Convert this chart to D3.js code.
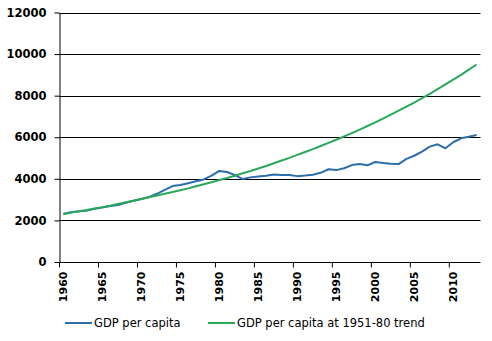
<!DOCTYPE html>
<html>
<head>
<meta charset="utf-8">
<script src="https://cdn.jsdelivr.net/npm/d3@7"></script>
<style>
  body { margin: 0; background: #fff; }
  text { font-family: "DejaVu Sans", Verdana, sans-serif; }
</style>
</head>
<body>
<div id="chart"></div>
<script>
// data
var years = d3.range(1960, 2014);
var gdpPerCapita = [
    2320, 2390, 2440, 2470, 2560, 2620, 2690, 2740, 2850, 2950,
    3030, 3130, 3280, 3470, 3650, 3700, 3790, 3880, 3970, 4150,
    4380, 4330, 4180, 3990, 4070, 4110, 4150, 4210, 4190, 4180,
    4130, 4160, 4200, 4290, 4460, 4420, 4510, 4660, 4710, 4650,
    4810, 4760, 4720, 4710, 4960, 5110, 5310, 5550, 5660, 5470,
    5760, 5950, 6020, 6110
];
var gdpTrend = [
    2300, 2380, 2440, 2500, 2570, 2640, 2710, 2790, 2870, 2950,
    3030, 3110, 3200, 3280, 3370, 3450, 3540, 3640, 3740, 3840,
    3940, 4040, 4150, 4270, 4380, 4500, 4620, 4750, 4880, 5010,
    5150, 5290, 5430, 5580, 5730, 5880, 6040, 6200, 6370, 6540,
    6720, 6900, 7090, 7280, 7470, 7670, 7880, 8090, 8310, 8540,
    8770, 9000, 9250, 9500
];
var yTicks = [0, 2000, 4000, 6000, 8000, 10000, 12000];
var seriesNames = ["GDP per capita", "GDP per capita at 1951-80 trend"];
var seriesColors = ["#2b6ead", "#2aa85a"];

function drawChart() {
    var width = 492;
    var height = 341;
    var plotLeft = 59.5, plotRight = 480.5, plotTop = 12.5, plotBottom = 262;

    var svg = d3.select("#chart")
        .append("svg")
        .attr("width", width)
        .attr("height", height);

    var x = d3.scaleBand()
        .domain(years)
        .range([plotLeft, plotRight])
        .padding(0);

    var y = d3.scaleLinear()
        .domain([0, 12000])
        .range([plotBottom, plotTop]);

    // gridlines
    svg.append("g")
        .selectAll("line")
        .data(yTicks.filter(d => d > 0))
        .join("line")
        .attr("x1", plotLeft)
        .attr("x2", plotRight)
        .attr("y1", d => Math.round(y(d)) + 0.5)
        .attr("y2", d => Math.round(y(d)) + 0.5)
        .attr("stroke", "#000")
        .attr("stroke-width", 1);

    // y axis
    var yAxis = svg.append("g")
        .attr("transform", `translate(${plotLeft},0)`)
        .call(d3.axisLeft(y).tickValues(yTicks).tickFormat(d3.format("d"))
            .tickSize(5).tickPadding(8).tickSizeOuter(0));
    yAxis.selectAll("path, line").attr("stroke", "#000");
    yAxis.selectAll("text")
        .attr("font-size", 11.5)
        .attr("font-weight", "bold")
        .attr("fill", "#000");

    // x axis
    var xAxis = svg.append("g")
        .attr("transform", `translate(0,${Math.round(plotBottom) + 0.5})`);
    xAxis.append("line")
        .attr("x1", plotLeft)
        .attr("x2", plotRight)
        .attr("stroke", "#000");
    var labelYears = years.filter(d => (d - 1960) % 5 == 0);
    xAxis.selectAll(".tick")
        .data(labelYears)
        .join("line")
        .attr("class", "tick")
        .attr("x1", d => x(d))
        .attr("x2", d => x(d))
        .attr("y1", 0)
        .attr("y2", 5)
        .attr("stroke", "#000");
    xAxis.selectAll(".lbl")
        .data(labelYears)
        .join("text")
        .attr("class", "lbl")
        .attr("transform", d => `translate(${x(d) + x.bandwidth() / 2 + 4},9) rotate(-90)`)
        .attr("text-anchor", "end")
        .attr("font-size", 11)
        .attr("font-weight", "bold")
        .attr("fill", "#000")
        .text(d => d);

    // lines
    [gdpPerCapita, gdpTrend].forEach(function (values, i) {
        svg.append("path")
            .datum(values)
            .attr("fill", "none")
            .attr("stroke", seriesColors[i])
            .attr("stroke-width", 2)
            .attr("stroke-linejoin", "round")
            .attr("d", d3.line()
                .x((d, j) => x(years[j]) + x.bandwidth() / 2)
                .y(d => y(d)));
    });

    // legend
    var legendX = [65, 208];
    var legend = svg.append("g");
    seriesNames.forEach(function (name, i) {
        legend.append("line")
            .attr("x1", legendX[i])
            .attr("x2", legendX[i] + 27)
            .attr("y1", 323)
            .attr("y2", 323)
            .attr("stroke", seriesColors[i])
            .attr("stroke-width", 2);
        legend.append("text")
            .attr("x", legendX[i] + 29)
            .attr("y", 327)
            .attr("font-size", 11.5)
            .attr("fill", "#000")
            .text(name);
    });
}

drawChart();
</script>
</body>
</html>
